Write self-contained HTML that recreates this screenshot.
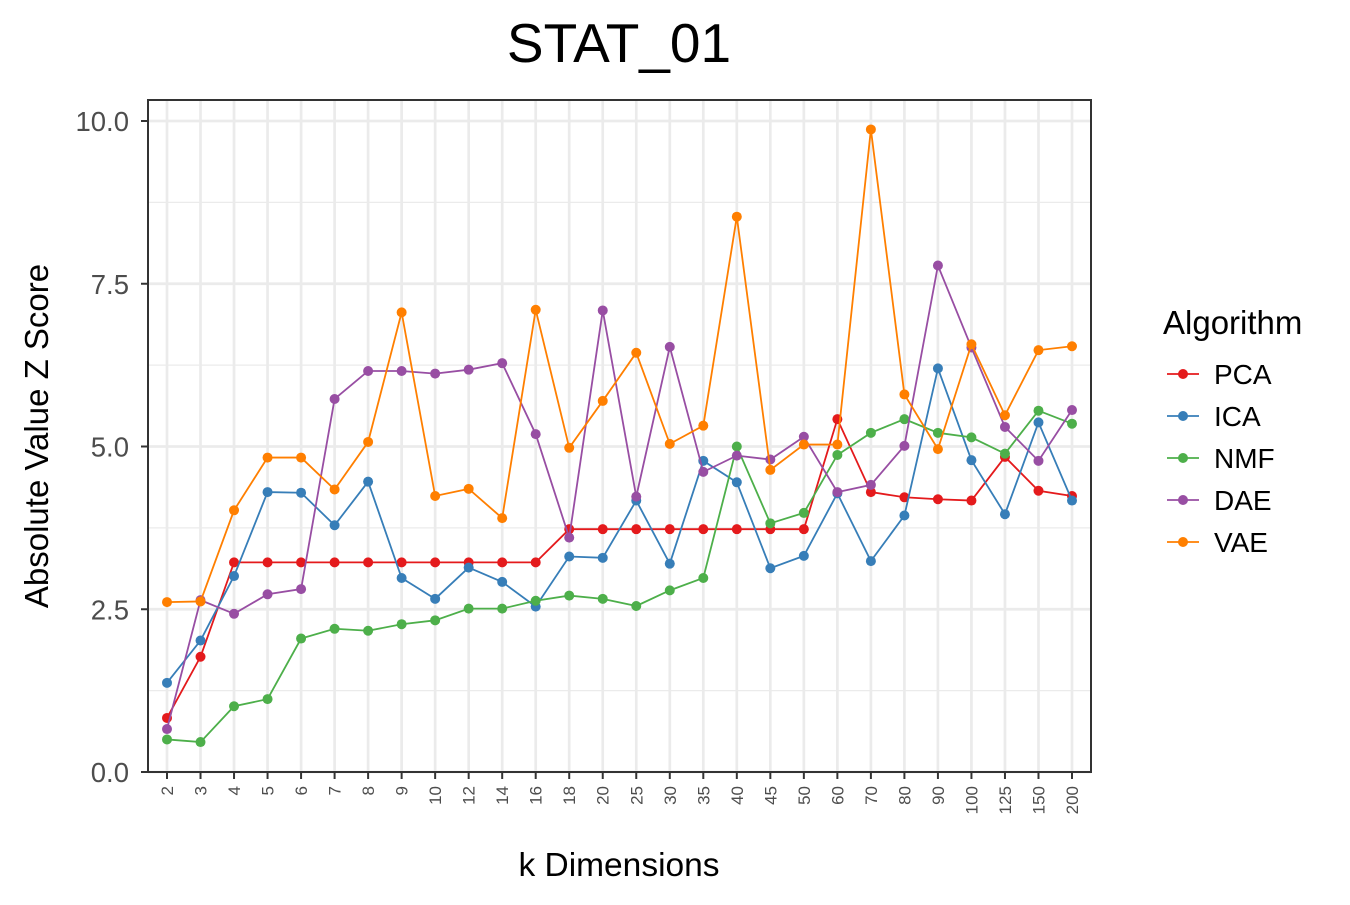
<!DOCTYPE html>
<html><head><meta charset="utf-8"><style>
body{margin:0;background:#fff;}
svg text{font-family:"Liberation Sans",Arial,sans-serif;}
</style></head><body>
<svg id="chart" width="1350" height="900" xmlns="http://www.w3.org/2000/svg">
<text x="619" y="62" font-size="55" text-anchor="middle" fill="#000">STAT_01</text>
<g id="grid"></g>
<g id="series"></g>
<rect x="148" y="100" width="943" height="672" fill="none" stroke="#333" stroke-width="2"/>
<g id="axes"></g>
<text transform="translate(48,436) rotate(-90)" font-size="33" text-anchor="middle" fill="#000">Absolute Value Z Score</text>
<text x="619" y="876" font-size="33.5" text-anchor="middle" fill="#000">k Dimensions</text>
<g id="legend">
<text x="1163" y="334" font-size="33" fill="#000">Algorithm</text>
</g>
</svg>
<script>
const categories=["2","3","4","5","6","7","8","9","10","12","14","16","18","20","25","30","35","40","45","50","60","70","80","90","100","125","150","200"];
const seriesNames=["PCA","ICA","NMF","DAE","VAE"];
const seriesColors=["#e41a1c","#377eb8","#4daf4a","#984ea3","#ff7f00"];
const pca=[0.83,1.77,3.22,3.22,3.22,3.22,3.22,3.22,3.22,3.22,3.22,3.22,3.73,3.73,3.73,3.73,3.73,3.73,3.73,3.73,5.42,4.3,4.22,4.19,4.17,4.84,4.32,4.24];
const ica=[1.37,2.02,3.01,4.3,4.29,3.79,4.46,2.98,2.66,3.14,2.92,2.54,3.31,3.29,4.17,3.2,4.78,4.45,3.13,3.32,4.28,3.24,3.94,6.2,4.79,3.96,5.37,4.17];
const nmf=[0.5,0.46,1.01,1.12,2.05,2.2,2.17,2.27,2.33,2.51,2.51,2.63,2.71,2.66,2.55,2.79,2.98,5.0,3.82,3.98,4.87,5.21,5.42,5.21,5.14,4.89,5.55,5.35];
const dae=[0.66,2.64,2.43,2.73,2.81,5.73,6.16,6.16,6.12,6.18,6.28,5.19,3.6,7.09,4.23,6.53,4.61,4.86,4.8,5.15,4.3,4.41,5.01,7.78,6.52,5.3,4.78,5.56];
const vae=[2.61,2.62,4.02,4.83,4.83,4.34,5.07,7.06,4.24,4.35,3.9,7.1,4.98,5.7,6.44,5.04,5.32,8.53,4.64,5.03,5.03,9.87,5.8,4.96,6.57,5.48,6.48,6.54];
const yTicks=[0,2.5,5,7.5,10];
const yTickLabels=["0.0","2.5","5.0","7.5","10.0"];
const allSeries=[pca,ica,nmf,dae,vae];
const NS="http://www.w3.org/2000/svg";
const x0=167,x1=1072;
function xs(i){return x0+(x1-x0)*i/(categories.length-1);}
function ys(v){return 772-v*65.1;}
function mk(tag,attrs,parent){const e=document.createElementNS(NS,tag);for(const k in attrs)e.setAttribute(k,attrs[k]);parent.appendChild(e);return e;}
const grid=document.getElementById('grid'),axes=document.getElementById('axes'),ser=document.getElementById('series'),leg=document.getElementById('legend');
for(let i=0;i<yTicks.length-1;i++){const v=(yTicks[i]+yTicks[i+1])/2;
 const l=mk('line',{x1:148,x2:1091,y1:ys(v),y2:ys(v),stroke:'#ebebeb','stroke-width':1.3},grid);
 
 }
yTicks.forEach((v,i)=>{
 const l=mk('line',{x1:148,x2:1091,y1:ys(v),y2:ys(v),stroke:'#ebebeb','stroke-width':2.7},grid);
 
 
 const t=mk('line',{x1:141,x2:148,y1:ys(v),y2:ys(v),stroke:'#333','stroke-width':2},axes);
 
 
 const tx=mk('text',{x:129,y:ys(v)+10,'font-size':27.5,'text-anchor':'end',fill:'#4d4d4d'},axes);
 tx.textContent=yTickLabels[i];
 
 
});
categories.forEach((c,i)=>{
 const x=xs(i);
 const l=mk('line',{x1:x,x2:x,y1:100,y2:772,stroke:'#ebebeb','stroke-width':2.7},grid);
 
 
 const t=mk('line',{x1:x,x2:x,y1:772,y2:779,stroke:'#333','stroke-width':2},axes);
 
 
 const tx=mk('text',{transform:`translate(${x+6},786) rotate(-90)`,'font-size':17,'text-anchor':'end',fill:'#4d4d4d'},axes);
 tx.textContent=c;
 
 
});
allSeries.forEach((d,s)=>{
 const g=mk('g',{},ser);
 
 
 const p=mk('polyline',{points:d.map((v,i)=>xs(i)+','+ys(v)).join(' '),fill:'none',stroke:seriesColors[s],'stroke-width':1.8},g);
 
 
 d.forEach((v,i)=>{const c=mk('circle',{cx:xs(i),cy:ys(v),r:5,fill:seriesColors[s]},g);
  
  });
 const y=374+42*s;
 const ll=mk('line',{x1:1167,x2:1199,y1:y,y2:y,stroke:seriesColors[s],'stroke-width':1.8},leg);
 
 
 const lc=mk('circle',{cx:1183,cy:y,r:5,fill:seriesColors[s]},leg);
 
 
 const lt=mk('text',{x:1214,y:y+10,'font-size':28,fill:'#000'},leg);
 lt.textContent=seriesNames[s];
 
 
});
</script>
</body></html>
